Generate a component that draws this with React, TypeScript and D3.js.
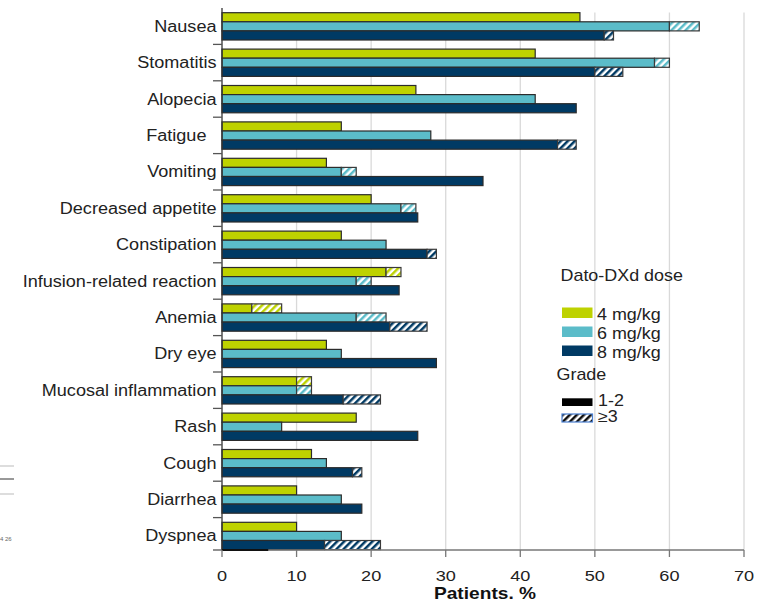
import React from "react";
import * as d3 from "d3";

const categories = [
  "Nausea",
  "Stomatitis",
  "Alopecia",
  "Fatigue\u00A0\u00A0",
  "Vomiting",
  "Decreased appetite",
  "Constipation",
  "Infusion-related reaction",
  "Anemia",
  "Dry eye",
  "Mucosal inflammation",
  "Rash",
  "Cough",
  "Diarrhea",
  "Dyspnea",
];

const dose4Grade12 = [48, 42, 26, 16, 14, 20, 16, 22, 4, 14, 10, 18, 12, 10, 10];
const dose4Grade3 = [0, 0, 0, 0, 0, 0, 0, 2, 4, 0, 2, 0, 0, 0, 0];
const dose6Grade12 = [60, 58, 42, 28, 16, 24, 22, 18, 18, 16, 10, 8, 14, 16, 16];
const dose6Grade3 = [4, 2, 0, 0, 2, 2, 0, 2, 4, 0, 2, 0, 0, 0, 0];
const dose8Grade12 = [51.25, 50, 47.5, 45, 35, 26.25, 27.5, 23.75, 22.5, 28.75, 16.25, 26.25, 17.5, 18.75, 13.75];
const dose8Grade3 = [1.25, 3.75, 0, 2.5, 0, 0, 1.25, 0, 5, 0, 5, 0, 1.25, 0, 7.5];

const doseLabels = ["4 mg/kg", "6 mg/kg", "8 mg/kg"];
const gradeLabels = ["1-2", "\u22653"];
const xTicks = [0, 10, 20, 30, 40, 50, 60, 70];

const colors = ["#bed200", "#5bbcc9", "#003a64"];
const FONT = "'Liberation Sans', Arial, sans-serif";

function SText(props: {
  x: number;
  y: number;
  sx: number;
  anchor?: "start" | "middle" | "end";
  size: number;
  weight?: string;
  fill?: string;
  children: React.ReactNode;
}) {
  const { x, y, sx, anchor = "start", size, weight, fill = "#222", children } = props;
  return (
    <text
      transform={`translate(${x},${y}) scale(${sx},1)`}
      textAnchor={anchor}
      fontSize={size}
      fontWeight={weight}
      fill={fill}
    >
      {children}
    </text>
  );
}

export default function App() {
  const width = 760;
  const height = 603;
  const x = d3.scaleLinear().domain([0, 70]).range([222, 744]);
  const y = d3.scaleBand<string>().domain(categories).range([8, 8 + 15 * 36.4]).padding(0);
  const axisY = 550;
  const barH = 9.1;
  const barOff = 4.7;

  const series = [
    { g12: dose4Grade12, g3: dose4Grade3 },
    { g12: dose6Grade12, g3: dose6Grade3 },
    { g12: dose8Grade12, g3: dose8Grade3 },
  ];

  return (
    <svg
      width={width}
      height={height}
      style={{ position: "absolute", left: 0, top: 0, background: "#fff" }}
      fontFamily={FONT}
    >
      <defs>
        {colors.map((c, i) => (
          <pattern
            key={i}
            id={`hatch${i}`}
            patternUnits="userSpaceOnUse"
            width={5}
            height={5}
            patternTransform="rotate(45)"
          >
            <rect width={5} height={5} fill="#fff" />
            <rect width={2.5} height={5} fill={c} />
          </pattern>
        ))}
        <pattern id="hatchK" patternUnits="userSpaceOnUse" width={5} height={5} patternTransform="rotate(45)">
          <rect width={5} height={5} fill="#fff" />
          <rect width={2.5} height={5} fill="#111" />
        </pattern>
      </defs>

      {/* gridlines */}
      {xTicks.slice(1).map((t) => (
        <line key={t} x1={x(t)} x2={x(t)} y1={12.5} y2={axisY} stroke="#d9d9d9" strokeWidth={1.3} />
      ))}

      {/* bars */}
      {categories.map((cat, ci) => {
        const by = y(cat)!;
        return (
          <g key={cat}>
            {series.map((s, si) => {
              const yy = by + barOff + si * barH;
              const v1 = s.g12[ci];
              const v3 = s.g3[ci];
              return (
                <g key={si}>
                  <rect
                    x={x(0)}
                    y={yy}
                    width={x(v1) - x(0)}
                    height={barH}
                    fill={colors[si]}
                    stroke="#2b2b2b"
                    strokeWidth={1.2}
                  />
                  {v3 > 0 && (
                    <rect
                      x={x(v1)}
                      y={yy}
                      width={x(v1 + v3) - x(v1)}
                      height={barH}
                      fill={`url(#hatch${si})`}
                      stroke="#3a3a3a"
                      strokeWidth={1.2}
                    />
                  )}
                </g>
              );
            })}
            <SText x={216.5} y={by + 23.8} sx={1.13} anchor="end" size={16}>
              {cat}
            </SText>
          </g>
        );
      })}

      {/* y axis */}
      <line x1={x(0)} x2={x(0)} y1={8} y2={axisY} stroke="#333" strokeWidth={1.3} />
      {categories.slice(1).map((cat) => (
        <line key={cat} x1={213} x2={x(0)} y1={y(cat)!} y2={y(cat)!} stroke="#555" strokeWidth={1.3} />
      ))}
      <line x1={213} x2={x(0)} y1={axisY} y2={axisY} stroke="#555" strokeWidth={1.3} />

      {/* x axis */}
      <line x1={x(0)} x2={x(70)} y1={axisY} y2={axisY} stroke="#777" strokeWidth={1.5} />
      <line x1={x(0)} x2={x(6.2)} y1={axisY} y2={axisY} stroke="#111" strokeWidth={2} />
      {xTicks.map((t) => (
        <g key={t}>
          <line x1={x(t)} x2={x(t)} y1={axisY} y2={axisY + 7} stroke="#777" strokeWidth={1.3} />
          <SText x={x(t)} y={581} sx={1.17} anchor="middle" size={15.5}>
            {t}
          </SText>
        </g>
      ))}
      <SText x={(x(0) + x(70)) / 2 + 2} y={599} sx={1.16} anchor="middle" size={16.5} weight="bold" fill="#111">
        Patients. %
      </SText>

      {/* legend */}
      <SText x={560.5} y={281} sx={1.12} size={16}>
        Dato-DXd dose
      </SText>
      {doseLabels.map((d, i) => (
        <g key={d}>
          <rect x={562} y={307.5 + i * 19} width={30.5} height={10.5} fill={colors[i]} />
          <SText x={597} y={319.5 + i * 19} sx={1.12} size={16}>
            {d}
          </SText>
        </g>
      ))}
      <SText x={556.5} y={379.5} sx={1.12} size={16}>
        Grade
      </SText>
      <rect x={562} y={398.3} width={30.5} height={7.7} fill="#000" />
      <SText x={598} y={405.5} sx={1.12} size={16}>
        {gradeLabels[0]}
      </SText>
      <rect x={562} y={414} width={30.5} height={8} fill="url(#hatchK)" stroke="#4a7fd0" strokeWidth={1.2} />
      <SText x={598} y={422} sx={1.12} size={16}>
        {gradeLabels[1]}
      </SText>

      {/* cropped remnants at left edge */}
      <line x1={0} x2={14} y1={466} y2={466} stroke="#bbb" strokeWidth={1} />
      <line x1={0} x2={14} y1={479} y2={479} stroke="#333" strokeWidth={1} />
      <line x1={0} x2={14} y1={494} y2={494} stroke="#bbb" strokeWidth={1} />
      <text x={0} y={541} fontSize={6} fill="#666">
        4 26
      </text>
    </svg>
  );
}
